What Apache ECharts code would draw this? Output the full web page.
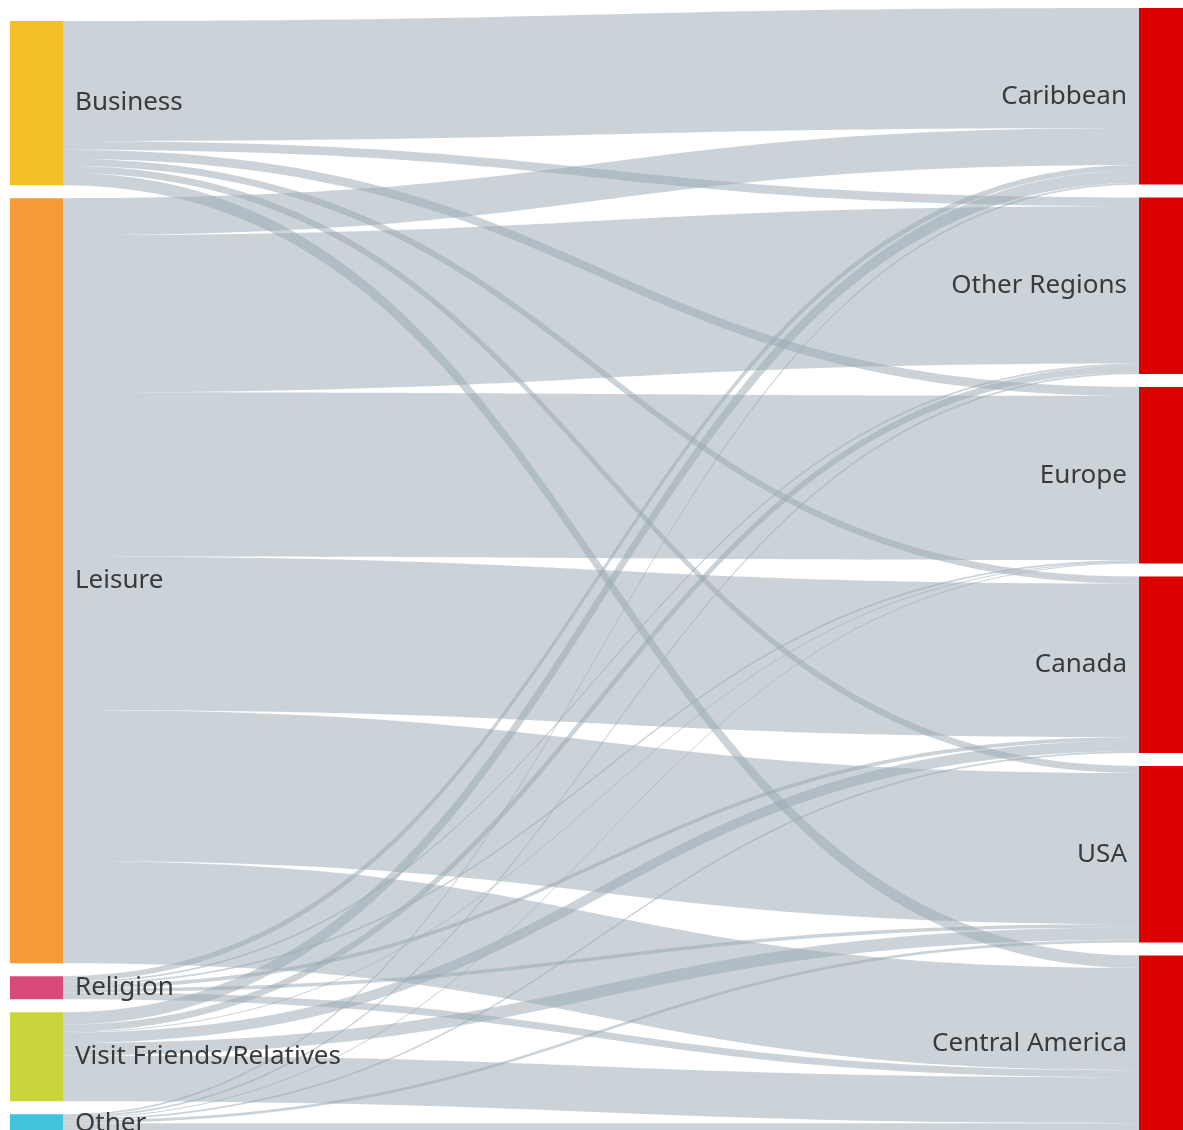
<!DOCTYPE html>
<html>
<head>
<meta charset="utf-8">
<script src="https://cdn.jsdelivr.net/npm/echarts@6/dist/echarts.min.js"></script>
<style>
html,body{margin:0;padding:0;background:#fff;}
#chart{width:1183px;height:1130px;}
</style>
</head>
<body>
<div id="chart"></div>
<script>
var purposes = ['Business', 'Leisure', 'Religion', 'Visit Friends/Relatives', 'Other'];
var regions = ['Caribbean', 'Other Regions', 'Europe', 'Canada', 'USA', 'Central America'];
var purposeColors = ['#f5bf27', '#f59a36', '#d8497c', '#c9d63b', '#40c4dc'];
var regionColor = '#dc0000';
// share (%) of each region's travellers by purpose (rows: purposes, cols: regions)
var business = [68, 5, 5, 4, 4, 7];
var leisure  = [21, 89, 93, 87, 85.5, 58];
var religion = [3, 1, 1, 2, 2, 4];
var vfr      = [7, 4, 0.5, 6, 7, 26];
var other    = [1, 1, 0.5, 1, 1.5, 5];
var matrix = [business, leisure, religion, vfr, other];

// invisible spacer keeps the left column offset from the top like the original
var nodes = [{ name: '\u200b', value: 0.001, itemStyle: { color: 'rgba(0,0,0,0)' }, label: { show: false }, silent: true }];
purposes.forEach(function (p, i) {
  nodes.push({ name: p, itemStyle: { color: purposeColors[i] }, label: { position: 'right' } });
});
regions.forEach(function (r) {
  nodes.push({ name: r, itemStyle: { color: regionColor }, label: { position: 'left' } });
});
var links = [];
purposes.forEach(function (p, i) {
  regions.forEach(function (r, j) {
    if (matrix[i][j] > 0) links.push({ source: p, target: r, value: matrix[i][j] });
  });
});

var chart = echarts.init(document.getElementById('chart'));
chart.setOption({
  animation: false,
  series: [{
    type: 'sankey',
    left: 10,
    right: -9,
    top: 8,
    bottom: -2,
    nodeWidth: 53,
    nodeGap: 13,
    nodeAlign: 'left',
    layoutIterations: 0,
    draggable: false,
    data: nodes,
    links: links,
    itemStyle: { borderWidth: 0 },
    label: {
      fontFamily: 'Noto Sans',
      fontSize: 26,
      color: '#3a3a3a',
      distance: 12
    },
    lineStyle: { color: '#98a8b2', opacity: 0.5, curveness: 0.5 }
  }]
});
</script>
</body>
</html>
